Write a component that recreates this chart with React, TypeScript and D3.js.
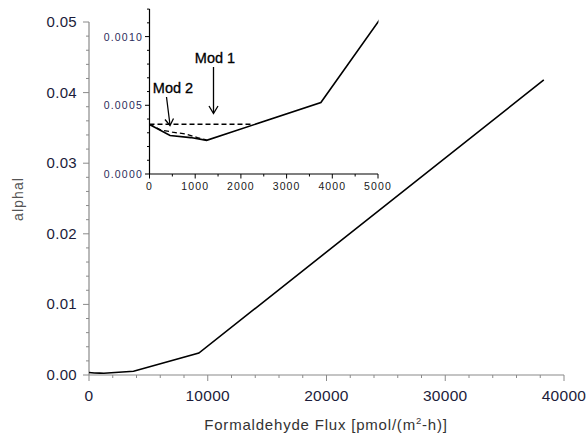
import React from "react";
import * as d3 from "d3";

const fluxMain = [0, 450, 900, 1250, 3750, 9250, 38300];
const alphaMain = [0.00036, 0.00028, 0.000265, 0.000245, 0.00052, 0.0031, 0.0418];

const fluxMod1 = [0, 2250];
const alphaMod1 = [0.000362, 0.000362];

const fluxMod2 = [0, 250, 500, 800, 1050, 1250];
const alphaMod2 = [0.000362, 0.00032, 0.000305, 0.00029, 0.000265, 0.000248];

const mainXTicks = [0, 10000, 20000, 30000, 40000];
const mainYTicks = [0, 0.01, 0.02, 0.03, 0.04, 0.05];
const insetXTicks = [0, 1000, 2000, 3000, 4000, 5000];
const insetYTicks = [0, 0.0005, 0.001];

const FONT = "'Liberation Sans', Arial, sans-serif";

export default function App() {
  const x = d3.scaleLinear().domain([0, 40000]).range([89, 564]);
  const y = d3.scaleLinear().domain([0, 0.05]).range([375, 22]);
  const ix = d3.scaleLinear().domain([0, 5000]).range([149.5, 378]);
  const iy = d3.scaleLinear().domain([0, 0.0012]).range([174, 9.1]);

  const mainLine = d3
    .line<number>()
    .x((d) => x(fluxMain[d]))
    .y((d) => y(alphaMain[d]));
  const idx = fluxMain.map((_, i) => i);
  const insetLine = d3
    .line<[number, number]>()
    .x((d) => ix(d[0]))
    .y((d) => iy(d[1]));

  const mainPts = fluxMain.map((f, i) => [f, alphaMain[i]] as [number, number]);
  const mod1Pts = fluxMod1.map((f, i) => [f, alphaMod1[i]] as [number, number]);
  const mod2Pts = fluxMod2.map((f, i) => [f, alphaMod2[i]] as [number, number]);

  const axisGray = "#8a8a8a";
  const labelColor = "#1c1c3a";

  const mainXMinor = d3.range(0, 40001, 2000);
  const mainYMinor = d3.range(0, 0.05001, 0.002);
  const insetXMinor = d3.range(0, 5001, 500);
  const insetYMinor = d3.range(0, 0.00121, 0.0001);

  return (
    <svg width={587} height={436} style={{ position: "absolute", left: 0, top: 0, background: "#fff" }}>
      {/* Main axes */}
      <line x1={89} x2={89} y1={y(0.05)} y2={375} stroke={axisGray} strokeWidth={1.2} />
      <line x1={89} x2={564} y1={375} y2={375} stroke={axisGray} strokeWidth={1.2} />
      {mainYMinor.map((v, i) => (
        <line key={"ym" + i} x1={89} x2={i % 5 === 0 ? 83 : 86} y1={y(v)} y2={y(v)} stroke={axisGray} strokeWidth={1} />
      ))}
      {mainXMinor.map((v, i) => (
        <line key={"xm" + i} x1={x(v)} x2={x(v)} y1={375} y2={i % 5 === 0 ? 381 : 378} stroke={axisGray} strokeWidth={1} />
      ))}
      {mainYTicks.map((v) => (
        <text key={"yt" + v} x={77} y={y(v) + 5} textAnchor="end" fontFamily={FONT} fontSize={15} letterSpacing={0.3} fill={labelColor}>
          {v.toFixed(2)}
        </text>
      ))}
      {mainXTicks.map((v) => (
        <text key={"xt" + v} x={x(v)} y={401} textAnchor="middle" fontFamily={FONT} fontSize={15.5} letterSpacing={0.3} fill={labelColor}>
          {v}
        </text>
      ))}
      <text
        transform={`translate(23,${199}) rotate(-90)`}
        textAnchor="middle"
        fontFamily={FONT}
        fontSize={14}
        letterSpacing={1.1}
        fill="#555"
      >
        alphal
      </text>
      <text x={326} y={430} textAnchor="middle" fontFamily={FONT} fontSize={15} letterSpacing={0.8} fill="#333">
        Formaldehyde Flux [pmol/(m
        <tspan dy={-6} fontSize={9.5}>2</tspan>
        <tspan dy={6}>-h)]</tspan>
      </text>
      <path d={mainLine(idx) || ""} fill="none" stroke="#000" strokeWidth={1.6} />

      {/* Inset */}
      <line x1={149.5} x2={149.5} y1={9} y2={174} stroke="#000" strokeWidth={1.2} />
      <line x1={149.5} x2={378} y1={174} y2={174} stroke="#000" strokeWidth={1.2} />
      {insetYMinor.map((v, i) => (
        <line key={"iym" + i} x1={149.5} x2={i % 5 === 0 ? 145 : 147} y1={iy(v)} y2={iy(v)} stroke="#000" strokeWidth={1} />
      ))}
      {insetXMinor.map((v, i) => (
        <line key={"ixm" + i} x1={ix(v)} x2={ix(v)} y1={174} y2={i % 2 === 0 ? 178.5 : 176.5} stroke="#000" strokeWidth={1} />
      ))}
      {insetYTicks.map((v) => (
        <text key={"iyt" + v} x={143} y={iy(v) + 4} textAnchor="end" fontFamily={FONT} fontSize={10.5} letterSpacing={1.2} fill="#2a2a5a">
          {v.toFixed(4)}
        </text>
      ))}
      {insetXTicks.map((v) => (
        <text key={"ixt" + v} x={ix(v)} y={190} textAnchor="middle" fontFamily={FONT} fontSize={10.5} letterSpacing={1.1} fill="#1a1a1a">
          {v}
        </text>
      ))}
      <clipPath id="insetClip">
        <rect x={149.5} y={9} width={229} height={165} />
      </clipPath>
      <g clipPath="url(#insetClip)">
        <path d={insetLine(mainPts) || ""} fill="none" stroke="#000" strokeWidth={1.6} />
      </g>
      <path d={insetLine(mod1Pts) || ""} fill="none" stroke="#000" strokeWidth={1.3} strokeDasharray="5,3" />
      <path d={insetLine(mod2Pts) || ""} fill="none" stroke="#000" strokeWidth={1.3} strokeDasharray="5,3" />

      {/* Annotations */}
      <text x={215} y={63} textAnchor="middle" fontFamily={FONT} fontSize={14.5} fill="#000" stroke="#000" strokeWidth={0.3}>
        Mod 1
      </text>
      <line x1={213.5} y1={67} x2={213.5} y2={113} stroke="#000" strokeWidth={1.3} />
      <polyline points="209,106 213.5,113.5 218,106" fill="none" stroke="#000" strokeWidth={1.3} />
      <text x={173} y={93} textAnchor="middle" fontFamily={FONT} fontSize={14.5} fill="#000" stroke="#000" strokeWidth={0.3}>
        Mod 2
      </text>
      <line x1={166.5} y1={97} x2={170} y2={125} stroke="#000" strokeWidth={1.3} />
      <polyline points="165,119.5 170,125.5 173.5,118.5" fill="none" stroke="#000" strokeWidth={1.3} />
    </svg>
  );
}
